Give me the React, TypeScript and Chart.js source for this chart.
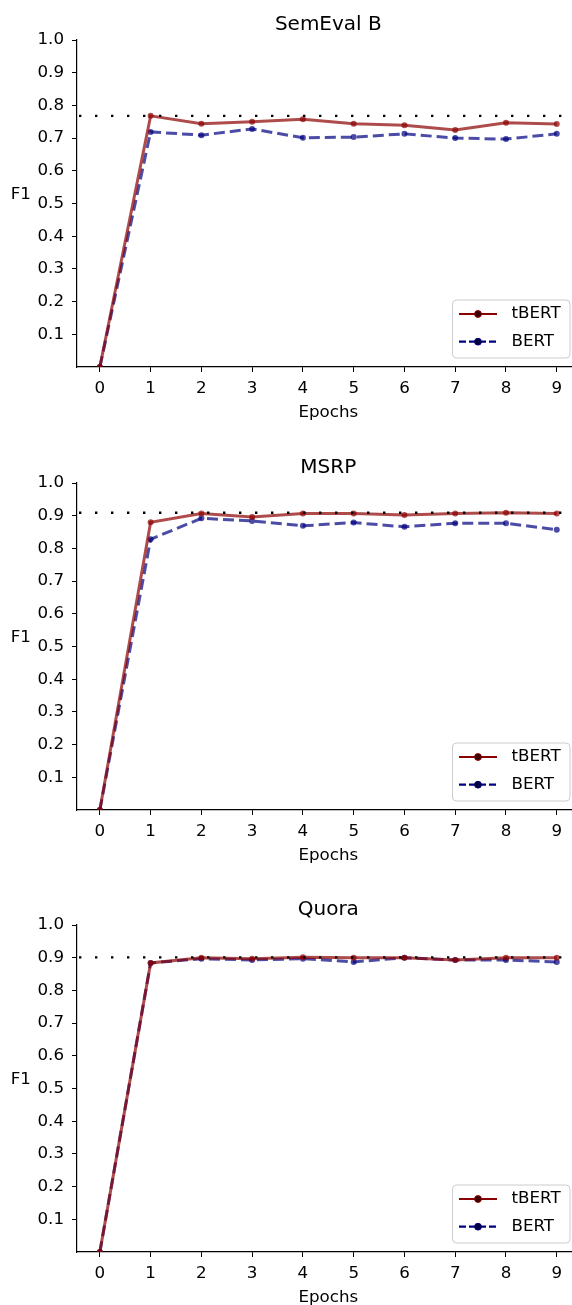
import React, { useEffect, useRef } from 'react';
import { Chart, registerables } from 'chart.js';

Chart.register(...registerables);

// ---- data ----
const epochs = [0, 1, 2, 3, 4, 5, 6, 7, 8, 9];
const yTickValues = [0.1, 0.2, 0.3, 0.4, 0.5, 0.6, 0.7, 0.8, 0.9, 1.0];
const panelTitles = ['SemEval B', 'MSRP', 'Quora'];
const seriesNames = ['tBERT', 'BERT'];

const semevalTBERT = [0, 0.768, 0.744, 0.75, 0.758, 0.744, 0.739, 0.725, 0.747, 0.743];
const semevalBERT = [0, 0.719, 0.709, 0.728, 0.701, 0.703, 0.713, 0.7, 0.697, 0.713];
const msrpTBERT = [0, 0.88, 0.907, 0.896, 0.907, 0.907, 0.902, 0.907, 0.909, 0.907];
const msrpBERT = [0, 0.828, 0.892, 0.884, 0.869, 0.879, 0.866, 0.877, 0.877, 0.857];
const quoraTBERT = [0, 0.884, 0.9, 0.897, 0.901, 0.9, 0.9, 0.893, 0.9, 0.9];
const quoraBERT = [0, 0.884, 0.897, 0.893, 0.897, 0.887, 0.9, 0.893, 0.893, 0.887];

const xMin = -0.45;
const xMax = 9.3;
const xAxesEnd = 9.45;

const FONT = "'DejaVu Sans', sans-serif";
const TICK_SIZE = 16.7;
const RED_LINE = 'rgba(139,0,0,0.7)';
const BLUE_LINE = 'rgba(0,0,128,0.7)';

const CANVAS_W = 572;
const CANVAS_H = 443;
const AREA_TOP = 40;
const AREA_BOTTOM = 367;

type PanelProps = { title: string; tbert: number[]; bert: number[]; top: number };

function Panel({ title, tbert, bert, top }: PanelProps) {
  const ref = useRef<HTMLCanvasElement | null>(null);

  useEffect(() => {
    if (!ref.current) return;
    const refValue = Math.max(...tbert);
    const decor = {
      id: 'decor',
      afterDraw(chart: any) {
        const { ctx, chartArea: a } = chart;
        const xs = chart.scales.x;
        const axesCenter = (a.left + xs.getPixelForValue(xAxesEnd)) / 2;
        ctx.save();
        ctx.fillStyle = '#000';
        ctx.textBaseline = 'alphabetic';
        // title
        ctx.font = `20px ${FONT}`;
        ctx.textAlign = 'center';
        ctx.fillText(title, axesCenter, a.top - 10);
        // x label
        ctx.font = `${TICK_SIZE}px ${FONT}`;
        ctx.fillText('Epochs', axesCenter, a.bottom + 50);
        // y label
        ctx.textAlign = 'left';
        ctx.fillText('F1', 10.7, a.top + 159.3);

        // legend
        const bx = a.right - 119.5;
        const by = a.bottom - 67;
        const bw = 117.5;
        const bh = 58;
        const r = 4;
        ctx.beginPath();
        ctx.moveTo(bx + r, by);
        ctx.lineTo(bx + bw - r, by);
        ctx.quadraticCurveTo(bx + bw, by, bx + bw, by + r);
        ctx.lineTo(bx + bw, by + bh - r);
        ctx.quadraticCurveTo(bx + bw, by + bh, bx + bw - r, by + bh);
        ctx.lineTo(bx + r, by + bh);
        ctx.quadraticCurveTo(bx, by + bh, bx, by + bh - r);
        ctx.lineTo(bx, by + r);
        ctx.quadraticCurveTo(bx, by, bx + r, by);
        ctx.closePath();
        ctx.fillStyle = 'rgba(255,255,255,0.8)';
        ctx.fill();
        ctx.strokeStyle = '#cccccc';
        ctx.lineWidth = 1;
        ctx.stroke();

        const entries = [
          { name: seriesNames[0], line: '#8b0000', mark: '#3a0000', dash: [] as number[], y: a.bottom - 53 },
          { name: seriesNames[1], line: '#000080', mark: '#00003a', dash: [7, 3], y: a.bottom - 25.3 },
        ];
        entries.forEach((e) => {
          ctx.beginPath();
          ctx.setLineDash(e.dash);
          ctx.strokeStyle = e.line;
          ctx.lineWidth = 2.2;
          ctx.moveTo(bx + 6.5, e.y);
          ctx.lineTo(bx + 44.5, e.y);
          ctx.stroke();
          ctx.setLineDash([]);
          ctx.beginPath();
          ctx.arc(bx + 25.5, e.y, 3.4, 0, Math.PI * 2);
          ctx.fillStyle = e.mark;
          ctx.fill();
          ctx.strokeStyle = e.line;
          ctx.lineWidth = 1;
          ctx.stroke();
          ctx.fillStyle = '#000';
          ctx.font = `${TICK_SIZE}px ${FONT}`;
          ctx.textAlign = 'left';
          ctx.textBaseline = 'middle';
          ctx.fillText(e.name, bx + 59, e.y);
        });
        ctx.restore();
      },
    };

    const chart = new Chart(ref.current, {
      type: 'line',
      data: {
        datasets: [
          {
            label: 'ref',
            data: [
              { x: xMin, y: refValue },
              { x: xMax, y: refValue },
            ],
            borderColor: '#000',
            borderWidth: 2.4,
            borderDash: [2.4, 13.6],
            borderDashOffset: 14,
            pointRadius: 0,
            fill: false,
          },
          {
            label: seriesNames[0],
            data: epochs.map((e, i) => ({ x: e, y: tbert[i] })),
            borderColor: RED_LINE,
            backgroundColor: RED_LINE,
            borderWidth: 3,
            pointRadius: 3,
            pointBorderWidth: 0,
            pointBackgroundColor: RED_LINE,
            tension: 0,
            fill: false,
          },
          {
            label: seriesNames[1],
            data: epochs.map((e, i) => ({ x: e, y: bert[i] })),
            borderColor: BLUE_LINE,
            backgroundColor: BLUE_LINE,
            borderWidth: 3,
            borderDash: [11, 5],
            pointRadius: 3,
            pointBorderWidth: 0,
            pointBackgroundColor: BLUE_LINE,
            tension: 0,
            fill: false,
          },
        ],
      },
      options: {
        responsive: false,
        animation: false,
        devicePixelRatio: 1,
        layout: { autoPadding: false, padding: { top: AREA_TOP, left: 0, right: 0, bottom: 0 } },
        plugins: {
          legend: { display: false },
          title: { display: false },
          tooltip: { enabled: false },
        },
        scales: {
          x: {
            type: 'linear',
            min: xMin,
            max: xMax,
            afterBuildTicks: (s: any) => {
              s.ticks = epochs.map((v) => ({ value: v }));
            },
            afterFit: (s: any) => {
              s.height = CANVAS_H - AREA_BOTTOM;
              s.paddingLeft = 0;
              s.paddingRight = 0;
            },
            grid: {
              display: true,
              drawOnChartArea: false,
              drawTicks: true,
              tickLength: 5,
              color: '#000',
              lineWidth: 1,
            },
            border: { display: true, color: '#000', width: 1.2 },
            ticks: {
              color: '#000',
              font: { family: FONT, size: TICK_SIZE },
              padding: 7,
              maxRotation: 0,
              autoSkip: false,
              callback: (v: any) => String(v),
            },
          },
          y: {
            type: 'linear',
            min: 0,
            max: 1,
            afterBuildTicks: (s: any) => {
              s.ticks = yTickValues.map((v) => ({ value: v }));
            },
            afterFit: (s: any) => {
              s.width = 77;
            },
            grid: {
              display: true,
              drawOnChartArea: false,
              drawTicks: true,
              tickLength: 5,
              color: '#000',
              lineWidth: 1,
            },
            border: { display: true, color: '#000', width: 1.2 },
            ticks: {
              color: '#000',
              font: { family: FONT, size: TICK_SIZE },
              padding: 8,
              autoSkip: false,
              callback: (v: any) => Number(v).toFixed(1),
            },
          },
        },
      },
      plugins: [decor],
    } as any);
    return () => chart.destroy();
  }, [title, tbert, bert]);

  return (
    <canvas
      ref={ref}
      width={CANVAS_W}
      height={CANVAS_H}
      style={{ position: 'absolute', left: 0, top, width: CANVAS_W, height: CANVAS_H, display: 'block' }}
    />
  );
}

export default function App() {
  return (
    <div
      style={{
        position: 'absolute',
        left: 0,
        top: 0,
        width: 572,
        height: 1305,
        overflow: 'hidden',
        background: '#fff',
      }}
    >
      <Panel title={panelTitles[0]} tbert={semevalTBERT} bert={semevalBERT} top={0} />
      <Panel title={panelTitles[1]} tbert={msrpTBERT} bert={msrpBERT} top={443} />
      <Panel title={panelTitles[2]} tbert={quoraTBERT} bert={quoraBERT} top={885} />
    </div>
  );
}
